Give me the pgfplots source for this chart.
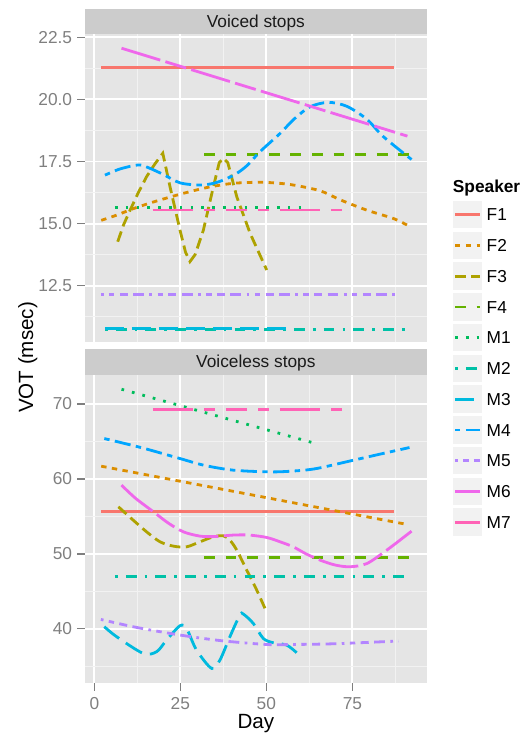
\documentclass[border=0pt]{standalone}
\usepackage{fontspec}
\setmainfont{Liberation Sans}
\usepackage{pgfplots}
\pgfplotsset{compat=1.18}

% ggplot hue palette, 11 speakers
\definecolor{cF1}{HTML}{F8766D}
\definecolor{cF2}{HTML}{DB8E00}
\definecolor{cF3}{HTML}{AEA200}
\definecolor{cF4}{HTML}{64B200}
\definecolor{cM1}{HTML}{00BD5C}
\definecolor{cM2}{HTML}{00C1A7}
\definecolor{cM3}{HTML}{00BADE}
\definecolor{cM4}{HTML}{00A6FF}
\definecolor{cM5}{HTML}{B385FF}
\definecolor{cM6}{HTML}{EF67EB}
\definecolor{cM7}{HTML}{FF63B6}
\definecolor{panelbg}{HTML}{E5E5E5}
\definecolor{minorgrid}{HTML}{F2F2F2}
\definecolor{stripbg}{HTML}{CCCCCC}
\definecolor{tickgrey}{HTML}{7F7F7F}
\definecolor{keybg}{HTML}{F2F2F2}
\definecolor{striptext}{HTML}{1A1A1A}

\tikzset{
  spk/.style={line width=2.8pt},
  sF1/.style={spk, cF1, solid},
  sF2/.style={spk, cF2, dash pattern=on 5.4pt off 5.4pt},
  sF3/.style={spk, cF3, dash pattern=on 10.8pt off 5.4pt},
  sF4/.style={spk, cF4, dash pattern=on 10.8pt off 10.8pt},
  sM1/.style={spk, cM1, dash pattern=on 2.7pt off 8.1pt},
  sM2/.style={spk, cM2, dash pattern=on 2.7pt off 8.1pt on 10.8pt off 8.1pt},
  sM3/.style={spk, cM3, dash pattern=on 18.9pt off 8.1pt},
  sM4/.style={spk, cM4, dash pattern=on 5.4pt off 5.4pt on 16.2pt off 5.4pt},
  sM5/.style={spk, cM5, dash pattern=on 2.7pt off 5.4pt on 5.4pt off 5.4pt on 8.1pt off 5.4pt on 10.8pt off 5.4pt},
  sM6/.style={spk, cM6, dash pattern=on 40.5pt off 5.4pt on 21.6pt off 5.4pt},
  sM7/.style={spk, cM7, dash pattern=on 40.5pt off 10.8pt on 10.8pt off 10.8pt on 21.6pt off 10.8pt on 10.8pt off 10.8pt},
}

\newcommand{\tickfont}{\fontsize{17.3}{20}\selectfont}
\newcommand{\titlefont}{\fontsize{20.6}{24}\selectfont}

\pgfplotsset{
  panel/.style={
    scale only axis, width=341.7pt, height=308pt,
    xmin=-2.71, xmax=96.6,
    axis background/.style={fill=panelbg},
    axis line style={draw=none},
    tick align=outside, tick pos=left,
    major tick length=7.7pt, minor tick length=0pt,
    tick style={tickgrey, line width=1.5pt},
    grid=both,
    major grid style={white, line width=1.9pt},
    minor grid style={minorgrid, line width=0.95pt},
    xtick={0,25,50,75}, minor xtick={12.5,37.5,62.5,87.5},
    every tick label/.append style={font=\tickfont, text=tickgrey},
    yticklabel style={anchor=east, inner sep=0pt, xshift=-5pt},
    xticklabel style={anchor=north, inner sep=0pt, yshift=-6.3pt},
    /pgf/number format/assume math mode=true,
  }
}

\newcommand{\legkey}[3]{%
  \begin{scope}[yshift=#1pt]
    \fill[keybg] (452.7pt,-13.7pt) rectangle (481.7pt,13.7pt);
    \draw[#2] (455pt,0pt) -- (480pt,0pt);
    \node[anchor=base west, inner sep=0pt, font=\tickfont] at (486.5pt,-6.2pt) {#3};
  \end{scope}}

\begin{document}
\begin{tikzpicture}
\path[use as bounding box] (0,0) rectangle (527pt,733pt);

% ---- Voiced stops ----
\begin{axis}[panel, at={(85pt,390.7pt)}, anchor=south west,
  ymin=10.22, ymax=22.62,
  ytick={12.5,15,17.5,20,22.5},
  minor ytick={11.25,13.75,16.25,18.75,21.25},
  xticklabels={}, xtick style={draw=none},
  yticklabel style={/pgf/number format/.cd, fixed, fixed zerofill, precision=1}]
\addplot[sF1] coordinates {(2,21.29) (87,21.29)};
\addplot[sF2, smooth] coordinates {(2,15.13) (6.5,15.34) (11.3,15.6) (17.2,15.87) (24.9,16.18) (32.7,16.45) (40.4,16.62) (49,16.66) (57,16.57) (65.6,16.32) (71.4,15.96) (79.2,15.54) (87,15.2) (91,14.93)};
\addplot[sF3] coordinates {(6.8,14.27) (8.5,14.95) (10.4,15.54) (12.8,16.25) (15.2,16.89) (17.6,17.4) (19.9,17.83) (22,16.48) (24.9,14.74) (26.5,13.85) (27.8,13.47) (29.3,13.75) (31.7,14.74) (34.6,16.48) (36.3,17.45) (37.5,17.63) (38.8,17.45) (41.4,16.08) (45.3,14.6) (50.1,13.13)};
\addplot[sF4] coordinates {(31.9,17.78) (92.2,17.78)};
\addplot[sM1] coordinates {(6,15.65) (62,15.65)};
\addplot[sM2] coordinates {(3.1,10.74) (92.2,10.74)};
\addplot[sM3] coordinates {(3.1,10.76) (57.8,10.76)};
\addplot[sM4, smooth] coordinates {(3.1,16.95) (7.5,17.2) (12.8,17.36) (15.7,17.25) (20,16.98) (24.9,16.64) (30.7,16.55) (34.6,16.62) (38,16.78) (41.4,17.02) (44.5,17.35) (48.2,17.9) (54,18.63) (58,19.2) (62.7,19.7) (68,19.88) (73.4,19.72) (79.2,19.2) (84,18.5) (92.2,17.58)};
\addplot[sM5] coordinates {(1.9,12.14) (88.9,12.14)};
\addplot[sM6] coordinates {(7.9,22.06) (91,18.52)};
\addplot[sM7] coordinates {(17,15.55) (72.9,15.55)};
\end{axis}

% ---- Voiceless stops ----
\begin{axis}[panel, at={(85pt,49.7pt)}, anchor=south west,
  ymin=32.72, ymax=73.82,
  ytick={40,50,60,70},
  minor ytick={35,45,55,65}]
\addplot[sF1] coordinates {(2,55.69) (87,55.69)};
\addplot[sF2] coordinates {(2,61.69) (91,53.91)};
\addplot[sF3, smooth] coordinates {(7,56.27) (11.3,54.49) (15.2,52.93) (19.1,51.6) (23,51.02) (26.8,50.93) (30.7,51.6) (34.6,52.27) (37.5,52.4) (39.4,51.82) (41.4,50.49) (44.3,47.82) (47.2,45.16) (49.9,42.4)};
\addplot[sF4] coordinates {(31.9,49.47) (92.2,49.47)};
\addplot[sM1] coordinates {(7.9,71.96) (65.1,64.62)};
\addplot[sM2] coordinates {(6,46.93) (92.2,46.93)};
\addplot[sM3, smooth] coordinates {(2.9,40.27) (6.5,38.93) (14.2,36.71) (18.1,36.93) (21,38.49) (24.9,40.4) (26.8,40.04) (29.7,37.16) (34.1,34.71) (36.5,35.82) (39.4,38.93) (42.3,41.82) (43.3,41.96) (46.2,40.71) (49.1,38.71) (52,38.13) (55.9,37.82) (58.8,36.8)};
\addplot[sM4, smooth] coordinates {(2.9,65.38) (14.2,64.1) (24.9,62.71) (32,61.8) (40.4,61.16) (51.1,60.93) (58,61.05) (64.6,61.38) (75.3,62.49) (84,63.4) (91.6,64.18)};
\addplot[sM5, smooth] coordinates {(1.9,41.24) (12,40.2) (24.9,39.16) (37,38.4) (50.1,37.9) (57.8,37.9) (70,38.0) (88.4,38.36)};
\addplot[sM6, smooth] coordinates {(7.9,59.16) (12,57.4) (17.2,55.6) (21.5,54.1) (25.9,52.93) (30.7,52.36) (35,52.3) (40.4,52.5) (45,52.5) (50.1,52.18) (54,51.6) (57.8,50.93) (61.5,50.0) (65.6,49.16) (70,48.5) (74.3,48.27) (79.2,48.7) (85,50.49) (92.2,53.02)};
\addplot[sM7] coordinates {(17,69.29) (72.9,69.29)};
\end{axis}

% facet strips
\fill[stripbg] (85pt,698.7pt) rectangle (426.7pt,723.7pt);
\node[anchor=base, inner sep=0pt, font=\tickfont, text=striptext] at (255.85pt,705pt) {Voiced stops};
\fill[stripbg] (85pt,358pt) rectangle (426.7pt,384pt);
\node[anchor=base, inner sep=0pt, font=\tickfont, text=striptext] at (255.85pt,365pt) {Voiceless stops};

% axis titles
\node[anchor=base, inner sep=0pt, font=\titlefont] at (255.85pt,4.7pt) {Day};
\node[anchor=base, inner sep=0pt, rotate=90, font=\titlefont] at (33pt,375.5pt) {VOT (msec)};

% legend
\node[anchor=base west, inner sep=0pt, font=\tickfont\bfseries] at (452.7pt,540.6pt) {Speaker};
\legkey{518.3}{sF1}{F1}
\legkey{487.55}{sF2}{F2}
\legkey{456.8}{sF3}{F3}
\legkey{426.05}{sF4}{F4}
\legkey{395.3}{sM1}{M1}
\legkey{364.55}{sM2}{M2}
\legkey{333.8}{sM3}{M3}
\legkey{303.05}{sM4}{M4}
\legkey{272.3}{sM5}{M5}
\legkey{241.55}{sM6}{M6}
\legkey{210.8}{sM7}{M7}
\end{tikzpicture}
\end{document}
